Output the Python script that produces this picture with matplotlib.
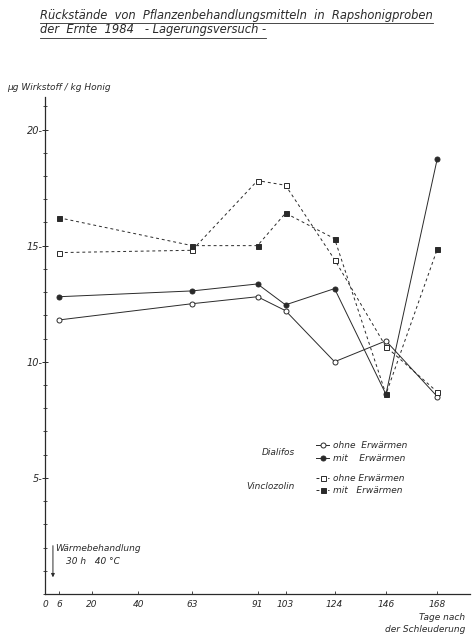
import matplotlib

matplotlib.use("Agg")
import matplotlib.pyplot as plt  # noqa: E402
from matplotlib.lines import Line2D  # noqa: E402
from matplotlib.ticker import MultipleLocator  # noqa: E402

# days after extraction (Tage nach der Schleuderung)
days = [6, 63, 91, 103, 124, 146, 168]
dialifos_ohne = [11.8, 12.5, 12.8, 12.2, 10.0, 10.9, 8.5]
dialifos_mit = [12.8, 13.05, 13.35, 12.45, 13.15, 8.6, 18.75]
vinclo_ohne = [14.7, 14.8, 17.8, 17.6, 14.4, 10.65, 8.7]
vinclo_mit = [16.2, 15.0, 15.0, 16.4, 15.3, 8.6, 14.85]

xtick_pos = [0, 6, 20, 40, 63, 91, 103, 124, 146, 168]
ytick_major = [5, 10, 15, 20]

INK = "#2a2a2a"
FONT = dict(family="DejaVu Sans", style="italic", color=INK)

fig = plt.figure(figsize=(4.75, 6.35), dpi=100)
ax = fig.add_axes([45 / 475, 41 / 635, 425 / 475, 497 / 635])

kw = dict(color=INK, lw=0.7, markersize=3.6, markeredgewidth=0.7)
h1, = ax.plot(days, dialifos_ohne, "-o", mfc="white", mec=INK, **kw)
h2, = ax.plot(days, dialifos_mit, "-o", mfc=INK, mec=INK, **kw)
h3, = ax.plot(days, vinclo_ohne, "s", ls=(0, (3, 3)), mfc="white", mec=INK, **kw)
h4, = ax.plot(days, vinclo_mit, "s", ls=(0, (3, 3)), mfc=INK, mec=INK, **kw)

ax.set_xlim(0, 182)
ax.set_ylim(0, 21.4)
for s in ("top", "right"):
    ax.spines[s].set_visible(False)
for s in ("left", "bottom"):
    ax.spines[s].set_linewidth(0.9)
    ax.spines[s].set_color(INK)

ax.set_xticks(xtick_pos)
ax.set_xticklabels([str(v) for v in xtick_pos], fontsize=6.5, **FONT)
ax.tick_params(axis="x", direction="in", length=2, width=0.6, color=INK, pad=4)
ax.set_yticks(ytick_major)
ax.set_yticklabels([f"{v}-" for v in ytick_major], fontsize=7, **FONT)
ax.yaxis.set_minor_locator(MultipleLocator(1))
ax.tick_params(axis="y", which="major", direction="inout", length=5, width=0.7, color=INK, pad=-1)
ax.tick_params(axis="y", which="minor", direction="inout", length=3, width=0.6, color=INK)

# legends, one per active substance
leg_kw = dict(frameon=False, handlelength=1.5, handletextpad=0.4,
              borderpad=0, borderaxespad=0, labelspacing=0.45,
              prop=dict(family="DejaVu Sans", style="italic", size=6.5))
leg1 = ax.legend([h1, h2], ["ohne  Erwärmen", "mit    Erwärmen"], loc="upper left",
                 bbox_to_anchor=(116, 6.6), bbox_transform=ax.transData, **leg_kw)
ax.add_artist(leg1)
ax.legend([h3, h4], ["ohne Erwärmen", "mit   Erwärmen"], loc="upper left",
          bbox_to_anchor=(116, 5.15), bbox_transform=ax.transData,
          **{**leg_kw, "labelspacing": 0.3})
for t in list(leg1.get_texts()) + list(ax.get_legend().get_texts()):
    t.set_color(INK)
ax.text(107, 6.1, "Dialifos", ha="right", va="center", fontsize=6.5, **FONT)
ax.text(107, 4.65, "Vinclozolin", ha="right", va="center", fontsize=6.5, **FONT)

# heat treatment note
ax.annotate("", xy=(3.4, 0.6), xytext=(3.4, 2.2),
            arrowprops=dict(arrowstyle="-|>", color=INK, lw=0.7, mutation_scale=5))
ax.text(4.3, 1.95, "Wärmebehandlung", ha="left", va="center", fontsize=6.5, **FONT)
ax.text(9.2, 1.42, "30 h   40 °C", ha="left", va="center", fontsize=6.5, **FONT)

# titles and axis labels
t1 = fig.text(40 / 475, 1 - 15 / 635, "Rückstände  von  Pflanzenbehandlungsmitteln  in  Rapshonigproben",
              ha="left", va="center", fontsize=8.3, **FONT)
t2 = fig.text(40 / 475, 1 - 30 / 635, "der  Ernte  1984   - Lagerungsversuch -",
              ha="left", va="center", fontsize=8.3, **FONT)
fig.text(7 / 475, 1 - 87 / 635, "µg Wirkstoff / kg Honig", ha="left", va="center", fontsize=6.5, **FONT)
fig.text(465 / 475, 1 - 617 / 635, "Tage nach", ha="right", va="center", fontsize=6.5, **FONT)
fig.text(465 / 475, 1 - 630 / 635, "der Schleuderung", ha="right", va="center", fontsize=6.5, **FONT)

# underline title lines
fig.canvas.draw()
inv = fig.transFigure.inverted()
for t in (t1, t2):
    bb = t.get_window_extent()
    (x0, y0), (x1, _) = inv.transform([(bb.x0, bb.y0 - 1), (bb.x1, bb.y0 - 1)])
    fig.add_artist(Line2D([x0, x1], [y0, y0], color=INK, lw=0.6, transform=fig.transFigure))

fig.savefig("out.png", dpi=100)
